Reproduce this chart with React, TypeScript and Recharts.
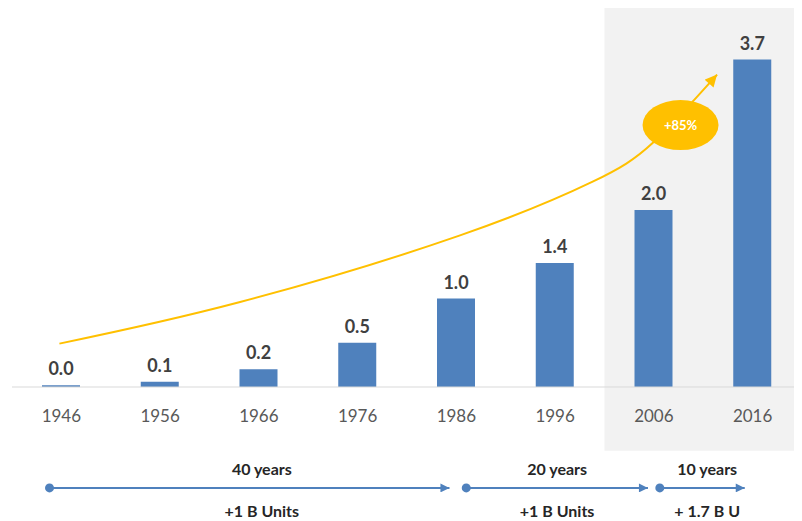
import React from 'react';
import {
  ComposedChart,
  Bar,
  Line,
  XAxis,
  YAxis,
  LabelList,
  ReferenceArea,
  ReferenceLine,
  ReferenceDot,
} from 'recharts';

const years = ['1946', '1956', '1966', '1976', '1986', '1996', '2006', '2016'];
const units = [0.02, 0.06, 0.2, 0.5, 1.0, 1.4, 2.0, 3.7];

// growth curve, x in category slots (0..8), y in billions
const trendX = [0.48, 2.31, 4.53, 5.88, 6.49, 7.14];
const trendY = [0.49, 0.96, 1.71, 2.32, 2.76, 3.53];

const spanLabels = ['40 years', '20 years', '10 years'];
const gainLabels = ['+1 B Units', '+1 B Units', '+ 1.7 B U'];

const data = years.map((year, i) => ({ year, units: units[i] }));
const trend = trendX.map((x, i) => ({ x, y: trendY[i] }));

// annotation placement (slot units / value units)
const spans = [
  { from: 0.38, to: 4.43, mid: 2.53 },
  { from: 4.6, to: 6.44, mid: 5.52 },
  { from: 6.56, to: 7.42, mid: 7.04 },
];
const ARROW_Y = -1.14;
const TOP_TEXT_Y = -0.92;
const BOTTOM_TEXT_Y = -1.4;

const BLUE = '#4f81bd';
const GOLD = '#ffc000';
const FONT = 'Lato, "Noto Sans", sans-serif';

const textShape = (label: string) => (p: any) => (
  <text
    x={p.cx}
    y={p.cy}
    textAnchor="middle"
    dominantBaseline="central"
    fontFamily={FONT}
    fontWeight={700}
    fontSize={16}
    fill="#262626"
  >
    {label}
  </text>
);

const badge = (p: any) => (
  <g>
    <ellipse cx={p.cx} cy={p.cy} rx={38} ry={25} fill={GOLD} />
    <text
      x={p.cx}
      y={p.cy}
      textAnchor="middle"
      dominantBaseline="central"
      fontFamily={FONT}
      fontWeight={700}
      fontSize={13}
      fill="#ffffff"
    >
      +85%
    </text>
  </g>
);

const startDot = (p: any) => <circle cx={p.cx} cy={p.cy} r={4.5} fill={BLUE} />;

export default function App() {
  return (
    <ComposedChart
      width={794}
      height={513}
      data={data}
      margin={{ top: 25, right: 0, left: 4, bottom: 104 }}
    >
      <defs>
        <marker
          id="goldArrow"
          viewBox="0 0 10 10"
          refX={10}
          refY={5}
          markerWidth={13}
          markerHeight={12}
          markerUnits="userSpaceOnUse"
          orient="auto"
        >
          <path d="M0,0 L10,5 L0,10 z" fill={GOLD} />
        </marker>
        <marker
          id="blueArrow"
          viewBox="0 0 10 10"
          refX={10}
          refY={5}
          markerWidth={10}
          markerHeight={9}
          markerUnits="userSpaceOnUse"
          orient="auto"
        >
          <path d="M0,0 L10,5 L0,10 z" fill={BLUE} />
        </marker>
      </defs>
      <XAxis
        xAxisId="cat"
        dataKey="year"
        axisLine={{ stroke: '#d9d9d9' }}
        tickLine={false}
        tickMargin={17}
        tick={{ fill: '#595959', fontSize: 17, fontFamily: FONT }}
        interval={0}
      />
      <XAxis xAxisId="t" type="number" dataKey="x" domain={[0, 8]} hide />
      <YAxis domain={[0, 4]} hide />
      <ReferenceArea
        xAxisId="cat"
        x1="2006"
        x2="2016"
        y1={-0.72}
        y2={4.3}
        fill="#f2f2f2"
        fillOpacity={1}
        stroke="none"
        ifOverflow="visible"
      />
      <Bar xAxisId="cat" dataKey="units" fill={BLUE} barSize={38} isAnimationActive={false}>
        <LabelList
          dataKey="units"
          position="top"
          offset={10}
          formatter={(v: any) => Number(v).toFixed(1)}
          style={{ fill: '#404040', fontSize: 18, fontWeight: 700, fontFamily: FONT }}
        />
      </Bar>
      <Line
        xAxisId="t"
        data={trend}
        dataKey="y"
        type="natural"
        stroke={GOLD}
        strokeWidth={2}
        dot={false}
        activeDot={false}
        markerEnd="url(#goldArrow)"
        isAnimationActive={false}
      />
      <ReferenceDot xAxisId="t" x={6.77} y={2.96} shape={badge} ifOverflow="visible" />
      {spans.map((s, i) => (
        <ReferenceLine
          key={'l' + i}
          xAxisId="t"
          segment={[
            { x: s.from, y: ARROW_Y },
            { x: s.to, y: ARROW_Y },
          ]}
          stroke={BLUE}
          strokeWidth={2}
          markerEnd="url(#blueArrow)"
          ifOverflow="visible"
        />
      ))}
      {spans.map((s, i) => (
        <ReferenceDot key={'d' + i} xAxisId="t" x={s.from} y={ARROW_Y} shape={startDot} ifOverflow="visible" />
      ))}
      {spans.map((s, i) => (
        <ReferenceDot
          key={'a' + i}
          xAxisId="t"
          x={s.mid}
          y={TOP_TEXT_Y}
          shape={textShape(spanLabels[i])}
          ifOverflow="visible"
        />
      ))}
      {spans.map((s, i) => (
        <ReferenceDot
          key={'b' + i}
          xAxisId="t"
          x={s.mid}
          y={BOTTOM_TEXT_Y}
          shape={textShape(gainLabels[i])}
          ifOverflow="visible"
        />
      ))}
    </ComposedChart>
  );
}
